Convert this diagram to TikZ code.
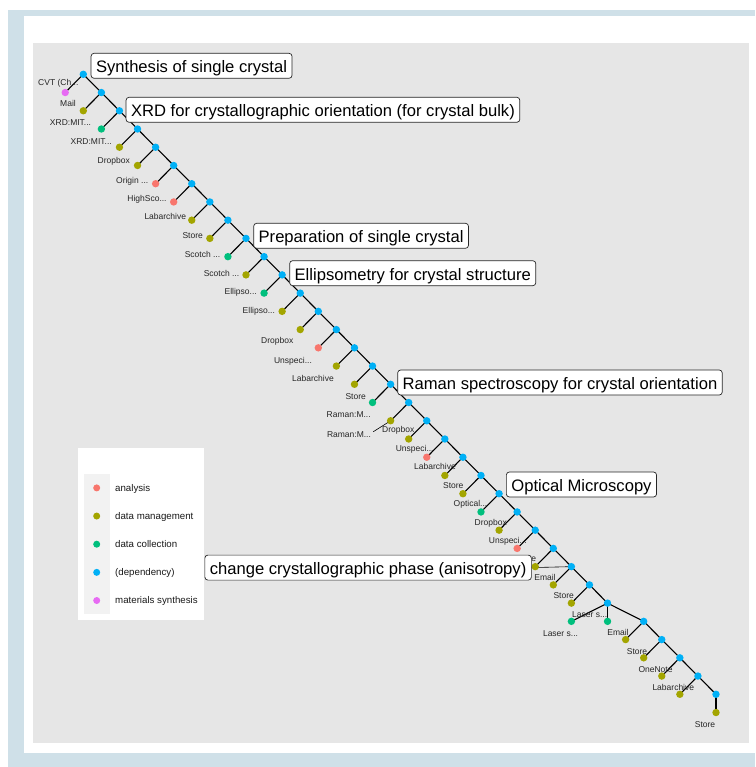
\documentclass[tikz,border=0pt]{standalone}
\usepackage{fontspec}
\setmainfont{Liberation Sans}
\definecolor{cAna}{HTML}{F8766D}
\definecolor{cDm}{HTML}{A3A500}
\definecolor{cDc}{HTML}{00BF7D}
\definecolor{cDep}{HTML}{00B0F6}
\definecolor{cMs}{HTML}{E76BF3}
\definecolor{frameblue}{HTML}{CFE0E8}
\definecolor{panelgray}{HTML}{E6E6E6}
\definecolor{keygray}{HTML}{F2F2F2}
\pgfdeclarelayer{bg}
\pgfdeclarelayer{edges}
\pgfsetlayers{bg,edges,main}
\tikzset{
  edge/.style={line width=1.1pt, black, line cap=round},
  leader/.style={line width=0.6pt, black},
  dot/.style={circle, inner sep=0pt, minimum size=7.4pt},
  keydot/.style={circle, inner sep=0pt, minimum size=7pt},
  leaflab/.style={font=\fontsize{8.5}{9}\selectfont, text=black!85, inner sep=0pt,
                  text height=6.1pt, text depth=0pt},
  keylab/.style={font=\fontsize{9.7}{11}\selectfont, text=black!90, inner sep=0pt,
                 text height=6.9pt, text depth=0pt, anchor=west},
  stagebox/.style={draw=black!85, line width=0.7pt, fill=white, rounded corners=3pt,
                   font=\fontsize{16.6}{18}\selectfont, inner xsep=5pt, inner ysep=0pt,
                   minimum height=25pt, text height=13.8pt, text depth=0pt}
}
% grid of the tree layout
\newcommand{\gx}[1]{83.3+18.077*(#1)}
\newcommand{\gy}[1]{74.3+18.235*(#1)}
\begin{document}
\begin{tikzpicture}[x=1pt,y=-1pt]
\useasboundingbox (0,0) rectangle (755,767);

\begin{pgfonlayer}{bg}
  \fill[white] (0,0) rectangle (755,767);
  \fill[frameblue] (8,10) rectangle (755,767);
  \fill[white] (24,15.7) rectangle (755,753);
  \fill[panelgray] (33.3,42.7) rectangle (749.3,743.3);
\end{pgfonlayer}

% main chain of dependency nodes
\foreach \k in {0,...,29}
  \node[dot, fill=cDep] (d\k) at ({\gx{\k}},{\gy{\k}}) {};
% tail of the chain after the three-way split
\foreach \i/\a/\b in {1/31/30,2/32/31,3/33/32,4/34/33,5/35/34}
  \node[dot, fill=cDep] (e\i) at ({\gx{\a}},{\gy{\b}}) {};

% leaves hanging off the main chain
\foreach \k/\c in {0/cMs,1/cDm,2/cDc,3/cDm,4/cDm,5/cAna,6/cAna,7/cDm,8/cDm,9/cDc,
                   10/cDm,11/cDc,12/cDm,13/cDm,14/cAna,15/cDm,16/cDm,17/cDc,18/cDm,
                   19/cDm,20/cAna,21/cDm,22/cDm,23/cDc,24/cDm,25/cAna,26/cDm,27/cDm,28/cDm}
  \node[dot, fill=\c] (l\k) at ({\gx{\k-1}},{\gy{\k+1}}) {};
% extra leaves of the split node
\node[dot, fill=cDc] (m1) at ({\gx{27}},{\gy{30}}) {};
\node[dot, fill=cDc] (m2) at ({\gx{29}},{\gy{30}}) {};
% leaves of the tail
\foreach \i/\a/\b in {1/30/31,2/31/32,3/32/33,4/33/34,5/35/35}
  \node[dot, fill=cDm] (n\i) at ({\gx{\a}},{\gy{\b}}) {};

\begin{pgfonlayer}{edges}
  \foreach \k in {0,...,28} {
    \pgfmathtruncatemacro{\nx}{\k+1}
    \draw[edge] (d\k.center) -- (d\nx.center);
  }
  \foreach \k in {0,...,28}
    \draw[edge] (d\k.center) -- (l\k.center);
  \draw[edge] (d29.center) -- (m1.center);
  \draw[edge] (d29.center) -- (m2.center);
  \draw[edge] (d29.center) -- (e1.center);
  \foreach \i in {1,...,4} {
    \pgfmathtruncatemacro{\nx}{\i+1}
    \draw[edge] (e\i.center) -- (e\nx.center);
  }
  \foreach \i in {1,...,5}
    \draw[edge] (e\i.center) -- (n\i.center);
\end{pgfonlayer}

% leaf labels
\foreach \i/\t/\x/\y in {
  0/{CVT (Ch...}/58.3/82.7, 1/Mail/68/103.3, 2/{XRD:MIT...}/70.5/122.7,
  3/{XRD:MIT...}/91.2/141.7, 4/Dropbox/113.8/160.7, 5/{Origin ...}/132.2/180,
  6/{HighSco...}/147/198.3, 7/Labarchive/165.3/216.7, 8/Store/192.7/235.7,
  9/{Scotch ...}/202.5/254.3, 10/{Scotch ...}/221.5/273.3, 11/{Ellipso...}/240.7/291.7,
  12/{Ellipso...}/258.8/310.7, 13/Dropbox/277.2/340, 14/{Unspeci...}/293/360,
  15/Labarchive/313/378.3, 16/Store/355.7/396, 17/{Raman:M...}/348.7/414.3,
  18/{Raman:M...}/349/434.3, 19/Dropbox/398.3/429.3, 20/{Unspeci...}/414.7/448.3,
  21/Labarchive/435/466.7, 22/Store/453.3/485, 23/{Optical...}/470.5/503.3,
  24/Dropbox/490.7/522, 25/{Unspeci...}/507.8/540, 26/Store/526/558.7,
  27/Email/545/577.3, 28/Store/563.7/595.7, 29/{Laser s...}/560.5/633.3,
  30/{Laser s...}/589.7/614.3, 31/Email/618/632.5, 32/Store/637/651,
  33/OneNote/655.5/669.3, 34/Labarchive/673.3/687.7, 35/Store/705/724.3}
  \node[leaflab] (lab\i) at (\x,\y) {\t};

% leader from a displaced label to its leaf
\coordinate (ld18) at (373.3,431.7);
\begin{pgfonlayer}{edges}
  \draw[leader] (ld18) -- (l18.center);
\end{pgfonlayer}

% stage labels
\node[stagebox, anchor=west] (syn)  at (90.7,65.8)  {Synthesis of single crystal};
\node[stagebox, anchor=west] (xrd)  at (125.7,109.8) {XRD for crystallographic orientation (for crystal bulk)};
\node[stagebox, anchor=west] (prep) at (253.3,235.8) {Preparation of single crystal};
\node[stagebox, anchor=west] (ell)  at (289.3,273.2) {Ellipsometry for crystal structure};
\node[stagebox, anchor=west] (ram)  at (397.3,382.5) {Raman spectroscopy for crystal orientation};
\node[stagebox, anchor=west] (opt)  at (506,484.5)   {Optical Microscopy};
\node[stagebox, anchor=east] (chg)  at (531.7,567.6) {change crystallographic phase (anisotropy)};
\begin{pgfonlayer}{edges}
  \draw[leader] (chg.east) -- (d27.center);
\end{pgfonlayer}

% legend
\node[fill=white, inner sep=0pt, minimum width=126pt, minimum height=172.7pt, anchor=north west] (leg) at (77.3,447.3) {};
\node[fill=keygray, inner sep=0pt, minimum width=26pt, minimum height=140.7pt, anchor=north west] (key) at (83.3,473.3) {};
\foreach \i/\c/\t in {0/cAna/analysis,1/cDm/data management,2/cDc/data collection,
                      3/cDep/(dependency),4/cMs/materials synthesis} {
  \node[keydot, fill=\c] (kd\i) at (96.7,{487.9+28.15*\i}) {};
  \node[keylab] (kt\i) at (115,{487.9+28.15*\i}) {\t};
}
\end{tikzpicture}
\end{document}
